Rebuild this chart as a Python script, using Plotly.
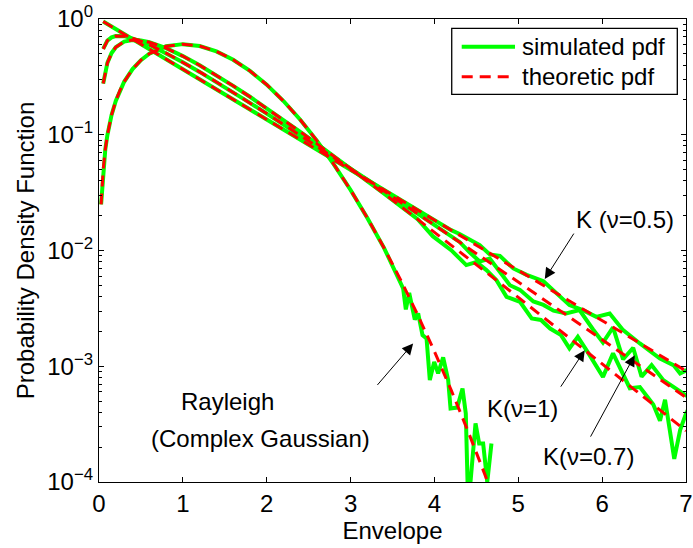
import plotly.graph_objects as go

# ---------------- data ----------------
x_theory = [0.05, 0.1, 0.15, 0.2, 0.3, 0.4, 0.5, 0.6, 0.8, 1.0, 1.2, 1.4, 1.6, 1.8,
            2.0, 2.2, 2.4, 2.6, 2.8, 3.0, 3.2, 3.4, 3.6, 3.8, 4.0, 4.2, 4.4, 4.6,
            4.8, 5.0, 5.2, 5.4, 5.6, 5.8, 6.0, 6.2, 6.4, 6.6, 6.8, 7.0]
theory_k05 = [0.9512, 0.9048, 0.8607, 0.8187, 0.7408, 0.6703, 0.6065, 0.5488, 0.4493,
              0.3679, 0.3012, 0.2466, 0.2019, 0.1653, 0.1353, 0.1108, 0.09072, 0.07427,
              0.06081, 0.04979, 0.04076, 0.03337, 0.02732, 0.02237, 0.01832, 0.01500,
              0.01228, 0.01005, 0.008230, 0.006738, 0.005517, 0.004517, 0.003698,
              0.003028, 0.002479, 0.002029, 0.001662, 0.001360, 0.001114, 0.000912]
theory_k07 = [0.5510, 0.6504, 0.6945, 0.7129, 0.7105, 0.6828, 0.6434, 0.5991, 0.5081,
              0.4234, 0.3490, 0.2856, 0.2325, 0.1885, 0.1523, 0.1228, 0.09883, 0.07939,
              0.06369, 0.05104, 0.04085, 0.03267, 0.02610, 0.02085, 0.01663, 0.01327,
              0.01058, 0.008426, 0.006711, 0.005343, 0.004251, 0.003383, 0.002691,
              0.002140, 0.001696, 0.001352, 0.001074, 0.0008530, 0.0006775, 0.0005380]
theory_k10 = [0.2770, 0.4175, 0.5090, 0.5707, 0.6381, 0.6594, 0.6530, 0.6305, 0.5598,
              0.4782, 0.3986, 0.3268, 0.2646, 0.2129, 0.1697, 0.1345, 0.1061, 0.08344,
              0.06539, 0.05109, 0.03983, 0.03099, 0.02406, 0.01864, 0.01443, 0.01116,
              0.00861, 0.00664, 0.005115, 0.003936, 0.003027, 0.002326, 0.001786,
              0.001371, 0.0010507, 0.000805, 0.0006167, 0.0004722, 0.0003613, 0.0002764]

x_rayleigh_theory = [0.025, 0.05, 0.075, 0.1, 0.15, 0.2, 0.25, 0.3, 0.4, 0.5, 0.6, 0.8,
                     1.0, 1.2, 1.4, 1.6, 1.8, 2.0, 2.2, 2.4, 2.6, 2.8, 3.0, 3.2, 3.4,
                     3.6, 3.8, 4.0, 4.2, 4.4, 4.6, 4.8]
theory_rayleigh = [0.02499, 0.04994, 0.07479, 0.09950, 0.1483, 0.1960, 0.2423, 0.2868,
                   0.3692, 0.4412, 0.5012, 0.5809, 0.6065, 0.5841, 0.5254, 0.4448,
                   0.3562, 0.2707, 0.1956, 0.1347, 0.08853, 0.05556, 0.03333, 0.01912,
                   0.01050, 0.005522, 0.002781, 0.001342, 0.0006207, 0.000275,
                   0.0001169, 0.0000477]

# simulated histograms
sim_k05_x = [0.05, 0.1, 0.15, 0.2, 0.3, 0.4, 0.5, 0.6, 0.8, 1.0, 1.2, 1.4, 1.6, 1.8,
             2.0, 2.2, 2.4, 2.6, 2.8, 3.0, 3.2, 3.4, 3.6, 3.8, 4.0, 4.2,
             4.30, 4.42, 4.54, 4.66, 4.78, 4.94, 5.10, 5.30, 5.49, 5.61, 5.77, 5.93,
             6.09, 6.25, 6.45, 6.69, 6.85, 6.93, 7.05]
sim_k05 = [0.9512, 0.9048, 0.8607, 0.8187, 0.7408, 0.6703, 0.6065, 0.5488, 0.4493,
           0.3679, 0.3012, 0.2466, 0.2019, 0.1653, 0.1353, 0.1108, 0.09072, 0.07427,
           0.06081, 0.04979, 0.04076, 0.03337, 0.02732, 0.02237, 0.01832, 0.01500,
           0.01390, 0.01230, 0.01114, 0.009247, 0.008995, 0.006998, 0.006166, 0.005433,
           0.004111, 0.003373, 0.003055, 0.002673, 0.002858, 0.002051, 0.001574,
           0.001167, 0.001023, 0.000867, 0.000955]

sim_k07_x = [0.05, 0.1, 0.15, 0.2, 0.3, 0.4, 0.5, 0.6, 0.8, 1.0, 1.2, 1.4, 1.6, 1.8,
             2.0, 2.2, 2.4, 2.6, 2.8, 3.0, 3.2, 3.4, 3.6, 3.8, 4.0, 4.2,
             4.30, 4.42, 4.54, 4.66, 4.78, 4.90, 5.02, 5.18, 5.30, 5.42, 5.57, 5.73,
             5.89, 6.01, 6.13, 6.25, 6.37, 6.47, 6.59, 6.73, 6.85, 7.00, 7.08]
sim_k07 = [0.5510, 0.6504, 0.6945, 0.7129, 0.7105, 0.6828, 0.6434, 0.5991, 0.5081,
           0.4234, 0.3490, 0.2856, 0.2325, 0.1885, 0.1523, 0.1228, 0.09883, 0.07939,
           0.06369, 0.05104, 0.04085, 0.03267, 0.02610, 0.02085, 0.01663, 0.01327,
           0.01186, 0.009638, 0.008035, 0.008511, 0.006607, 0.005012, 0.004571,
           0.003631, 0.003388, 0.003020, 0.002858, 0.003055, 0.002089, 0.001603,
           0.002163, 0.001148, 0.001445, 0.0008128, 0.001023, 0.0007586, 0.0006637,
           0.0005623, 0.0005129]

sim_k10_x = [0.05, 0.1, 0.15, 0.2, 0.3, 0.4, 0.5, 0.6, 0.8, 1.0, 1.2, 1.4, 1.6, 1.8,
             2.0, 2.2, 2.4, 2.6, 2.8, 3.0, 3.2, 3.4, 3.6, 3.8,
             3.98, 4.20, 4.38, 4.50, 4.62, 4.74, 4.86, 5.02, 5.16, 5.27, 5.38, 5.51,
             5.61, 5.71, 5.83, 6.01, 6.13, 6.21, 6.33, 6.45, 6.61, 6.69, 6.75, 6.86,
             6.93, 7.00, 7.06]
sim_k10 = [0.2770, 0.4175, 0.5090, 0.5707, 0.6381, 0.6594, 0.6530, 0.6305, 0.5598,
           0.4782, 0.3986, 0.3268, 0.2646, 0.2129, 0.1697, 0.1345, 0.1061, 0.08344,
           0.06539, 0.05109, 0.03983, 0.03099, 0.02406, 0.01864,
           0.01330, 0.01007, 0.007482, 0.007943, 0.006776, 0.005546, 0.003981,
           0.003606, 0.002588, 0.002512, 0.002118, 0.001858, 0.001426, 0.001795,
           0.001318, 0.0008091, 0.001291, 0.0009886, 0.0006457, 0.0006607, 0.0004677,
           0.0003388, 0.0005129, 0.0001585, 0.0002805, 0.0003908, 0.0004677]

sim_rayleigh_x = [0.025, 0.05, 0.075, 0.1, 0.15, 0.2, 0.25, 0.3, 0.4, 0.5, 0.6, 0.8,
                  1.0, 1.2, 1.4, 1.6, 1.8, 2.0, 2.2, 2.4, 2.6, 2.8, 3.0, 3.2, 3.4,
                  3.528, 3.576, 3.627, 3.659, 3.699, 3.766, 3.806, 3.858, 3.906, 3.945,
                  3.997, 4.044, 4.104, 4.164, 4.192, 4.232, 4.271, 4.335, 4.374, 4.395,
                  4.430, 4.490, 4.533, 4.581, 4.630, 4.680]
sim_rayleigh = [0.02499, 0.04994, 0.07479, 0.09950, 0.1483, 0.1960, 0.2423, 0.2868,
                0.3692, 0.4412, 0.5012, 0.5809, 0.6065, 0.5841, 0.5254, 0.4448,
                0.3562, 0.2707, 0.1956, 0.1347, 0.08853, 0.05556, 0.03333, 0.01912,
                0.01050,
                0.006776, 0.005754, 0.004699, 0.003097, 0.004305, 0.002535, 0.002858,
                0.001858, 0.001738, 0.0007586, 0.001091, 0.000867, 0.001191, 0.0007586,
                0.0004315, 0.0004365, 0.0004395, 0.0006427, 0.0003908, 0.0001, 0.0001,
                0.0003206, 0.0002153, 0.0002153, 0.0001, 0.0002153]

x_ticks = [0, 1, 2, 3, 4, 5, 6, 7]
y_ticks = [1e-4, 1e-3, 1e-2, 1e-1, 1]
y_tick_labels = ["10<sup>\u22124</sup>", "10<sup>\u22123</sup>", "10<sup>\u22122</sup>",
                 "10<sup>\u22121</sup>", "10<sup>0</sup>"]
legend_labels = ["simulated pdf", "theoretic pdf"]

# ---------------- styling ----------------
GREEN = "#00ff00"
RED = "#ff0000"
FONT = "Liberation Sans, Arial, Helvetica, sans-serif"
FS = 24
DASH = "11px,7px"

fig = go.Figure()

sims = [(sim_rayleigh_x, sim_rayleigh), (sim_k05_x, sim_k05),
        (sim_k07_x, sim_k07), (sim_k10_x, sim_k10)]
theories = [(x_rayleigh_theory, theory_rayleigh), (x_theory, theory_k05),
            (x_theory, theory_k07), (x_theory, theory_k10)]

for xs, ys in sims:
    fig.add_trace(go.Scatter(x=xs, y=ys, mode="lines", showlegend=False,
                             line=dict(color=GREEN, width=4)))
for xs, ys in theories:
    fig.add_trace(go.Scatter(x=xs, y=ys, mode="lines", showlegend=False,
                             line=dict(color=RED, width=3, dash=DASH)))

minor_vals = [k * 10.0 ** e for e in range(-4, 0) for k in range(2, 10)]

fig.update_layout(
    width=693, height=548,
    margin=dict(l=99, r=7, t=19, b=66),
    paper_bgcolor="white", plot_bgcolor="white",
    font=dict(family=FONT, size=FS, color="black"),
    showlegend=False,
    xaxis=dict(range=[0, 7], tickvals=x_ticks, ticks="inside", ticklen=5,
               tickwidth=1, tickcolor="black", showline=True, linecolor="black",
               linewidth=1.3, mirror="ticks", showgrid=False, zeroline=False,
               tickfont=dict(size=FS, family=FONT, color="black"),
               title=dict(text="Envelope", standoff=0,
                          font=dict(size=FS, family=FONT, color="black")),
               automargin=False),
    yaxis=dict(type="log", range=[-4, 0], tickvals=y_ticks, ticktext=y_tick_labels,
               ticks="inside", ticklen=5, tickwidth=1, tickcolor="black",
               showline=True, linecolor="black", linewidth=1.3, mirror="ticks",
               showgrid=False, zeroline=False,
               minor=dict(tickvals=minor_vals, ticks="inside", ticklen=3,
                          tickwidth=1, tickcolor="black", showgrid=False),
               tickfont=dict(size=FS, family=FONT, color="black"),
               title=dict(text="Probability Density Function", standoff=5,
                          font=dict(size=FS, family=FONT, color="black")),
               automargin=False),
)

# ---------------- manual legend (paper coordinates of the plot area) ----------------
fig.add_shape(type="rect", xref="paper", yref="paper", x0=0.6009, x1=0.9852,
              y0=0.8374, y1=0.9799, line=dict(color="black", width=1.3),
              fillcolor="white", layer="above")
fig.add_shape(type="line", xref="paper", yref="paper", x0=0.6179, x1=0.7087,
              y0=0.9401, y1=0.9401, line=dict(color=GREEN, width=4), layer="above")
fig.add_shape(type="line", xref="paper", yref="paper", x0=0.6179, x1=0.7087,
              y0=0.8754, y1=0.8754, line=dict(color=RED, width=3, dash=DASH),
              layer="above")
for lbl, yy in zip(legend_labels, [0.9401, 0.8754]):
    fig.add_annotation(text=lbl, xref="paper", yref="paper", x=0.7172, y=yy,
                       xanchor="left", yanchor="middle", showarrow=False,
                       font=dict(size=FS, family=FONT, color="black"))

# ---------------- curve labels and arrows ----------------
labels = [("K (\u03bd=0.5)", 6.269, -1.729), ("K(\u03bd=1)", 5.054, -3.362),
          ("K(\u03bd=0.7)", 5.840, -3.777), ("Rayleigh", 1.538, -3.302),
          ("(Complex Gaussian)", 1.931, -3.621)]
for txt, xx, yy in labels:
    fig.add_annotation(text=txt, x=xx, y=yy, xref="x", yref="y", showarrow=False,
                       xanchor="center", yanchor="middle",
                       font=dict(size=FS, family=FONT, color="black"))

arrows = [(3.746, -2.803, -37, 43), (5.316, -2.247, 30, -47),
          (5.793, -2.861, -25, 38), (6.389, -2.904, -45, 83)]
for xx, yy, axp, ayp in arrows:
    fig.add_annotation(text="", x=xx, y=yy, xref="x", yref="y", showarrow=True,
                       ax=axp, ay=ayp, arrowhead=2, arrowsize=2.2, arrowwidth=1,
                       arrowcolor="black", standoff=0)

fig.write_html("out.html")
